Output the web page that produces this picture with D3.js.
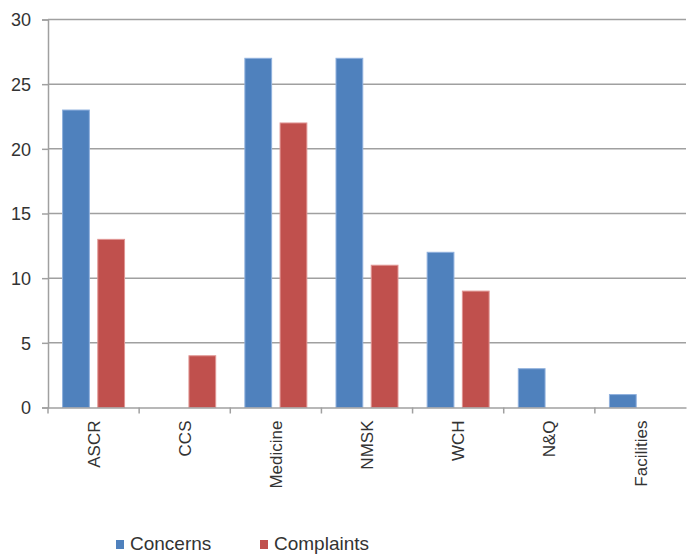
<!DOCTYPE html>
<html lang="en">
<head>
    <meta charset="UTF-8">
    <title>Concerns and Complaints</title>
    <script src="https://d3js.org/d3.v7.min.js"></script>
    <style>
        body { margin: 0; background: #fff; }
        text { font-family: "Liberation Sans", Arial, sans-serif; fill: #333; }
    </style>
</head>
<body>
<div id="chart"></div>
<script>
    // chart data
    var categories = ["ASCR", "CCS", "Medicine", "NMSK", "WCH", "N&Q", "Facilities"];
    var seriesNames = ["Concerns", "Complaints"];
    var concerns = [23, 0, 27, 27, 12, 3, 1];
    var complaints = [13, 4, 22, 11, 9, 0, 0];
    var yTicks = [0, 5, 10, 15, 20, 25, 30];

    var width = 687, height = 555;
    var margin = {left: 48, right: 1, top: 19.5, bottom: 147.5};
    var colors = {Concerns: "#4f81bd", Complaints: "#c0504d"};
    var edges = {Concerns: "#8fb0dd", Complaints: "#e09593"};

    var svg = d3.select("#chart").append("svg")
        .attr("width", width)
        .attr("height", height);

    var x = d3.scaleBand()
        .domain(categories)
        .range([margin.left, width - margin.right])
        .padding(0);

    var bw = x.bandwidth();
    var xs = d3.scaleBand()
        .domain(seriesNames)
        .range([bw * 0.16, bw * 0.84])
        .paddingInner(0.24);

    var y = d3.scaleLinear()
        .domain([0, 30])
        .range([height - margin.bottom, margin.top]);

    // gridlines
    svg.append("g")
        .selectAll("line")
        .data(yTicks.slice(1))
        .enter().append("line")
        .attr("x1", margin.left)
        .attr("x2", width - margin.right)
        .attr("y1", function(d){ return y(d); })
        .attr("y2", function(d){ return y(d); })
        .attr("stroke", "#a0a0a0")
        .attr("stroke-width", 1.5);

    // y axis
    var yAxis = svg.append("g")
        .attr("transform", "translate(" + margin.left + ",0)")
        .call(d3.axisLeft(y).tickValues(yTicks).tickSize(6).tickPadding(11));
    yAxis.select(".domain").attr("stroke", "#a0a0a0").attr("stroke-width", 1.5);
    yAxis.selectAll(".tick line").attr("stroke", "#a0a0a0").attr("stroke-width", 1.5);
    yAxis.selectAll(".tick text")
        .style("font-size", "18px")
        .attr("fill", "#333")
        .attr("dy", "0.36em");

    // bars
    var rows = categories.map(function(c, i){
        return {cat: c, Concerns: concerns[i], Complaints: complaints[i]};
    });

    var groups = svg.append("g")
        .selectAll("g")
        .data(rows)
        .enter().append("g")
        .attr("transform", function(d){ return "translate(" + x(d.cat) + ",0)"; });

    groups.selectAll("rect")
        .data(function(d){
            return seriesNames.map(function(s){ return {key: s, value: d[s]}; });
        })
        .enter().append("rect")
        .filter(function(d){ return d.value > 0; })
        .attr("x", function(d){ return xs(d.key); })
        .attr("width", xs.bandwidth())
        .attr("y", function(d){ return y(d.value); })
        .attr("height", function(d){ return y(0) - y(d.value); })
        .attr("fill", function(d){ return colors[d.key]; })
        .attr("stroke", function(d){ return edges[d.key]; })
        .attr("stroke-width", 1);

    // x axis
    var xAxis = svg.append("g")
        .attr("transform", "translate(0," + y(0) + ")")
        .call(d3.axisBottom(x).tickSize(0).tickPadding(0));
    xAxis.select(".domain").attr("stroke", "#a0a0a0").attr("stroke-width", 1.5);
    xAxis.selectAll(".tick text")
        .style("font-size", "17px")
        .attr("fill", "#333")
        .attr("text-anchor", "end")
        .attr("transform", "rotate(-90)")
        .attr("x", -13)
        .attr("y", 0)
        .attr("dy", "0.36em");

    // category boundary ticks
    svg.append("g")
        .selectAll("line")
        .data(categories)
        .enter().append("line")
        .attr("x1", function(d){ return x(d); })
        .attr("x2", function(d){ return x(d); })
        .attr("y1", y(0))
        .attr("y2", y(0) + 6)
        .attr("stroke", "#a0a0a0")
        .attr("stroke-width", 1.5);

    // legend
    var legend = svg.append("g")
        .selectAll("g")
        .data(seriesNames)
        .enter().append("g")
        .attr("transform", function(d, i){ return "translate(" + (116 + i * 144) + ",540)"; });
    legend.append("rect")
        .attr("width", 8)
        .attr("height", 9)
        .attr("fill", function(d){ return colors[d]; });
    legend.append("text")
        .attr("x", 14)
        .attr("y", 10)
        .style("font-size", "19px")
        .text(function(d){ return d; });
</script>
</body>
</html>
